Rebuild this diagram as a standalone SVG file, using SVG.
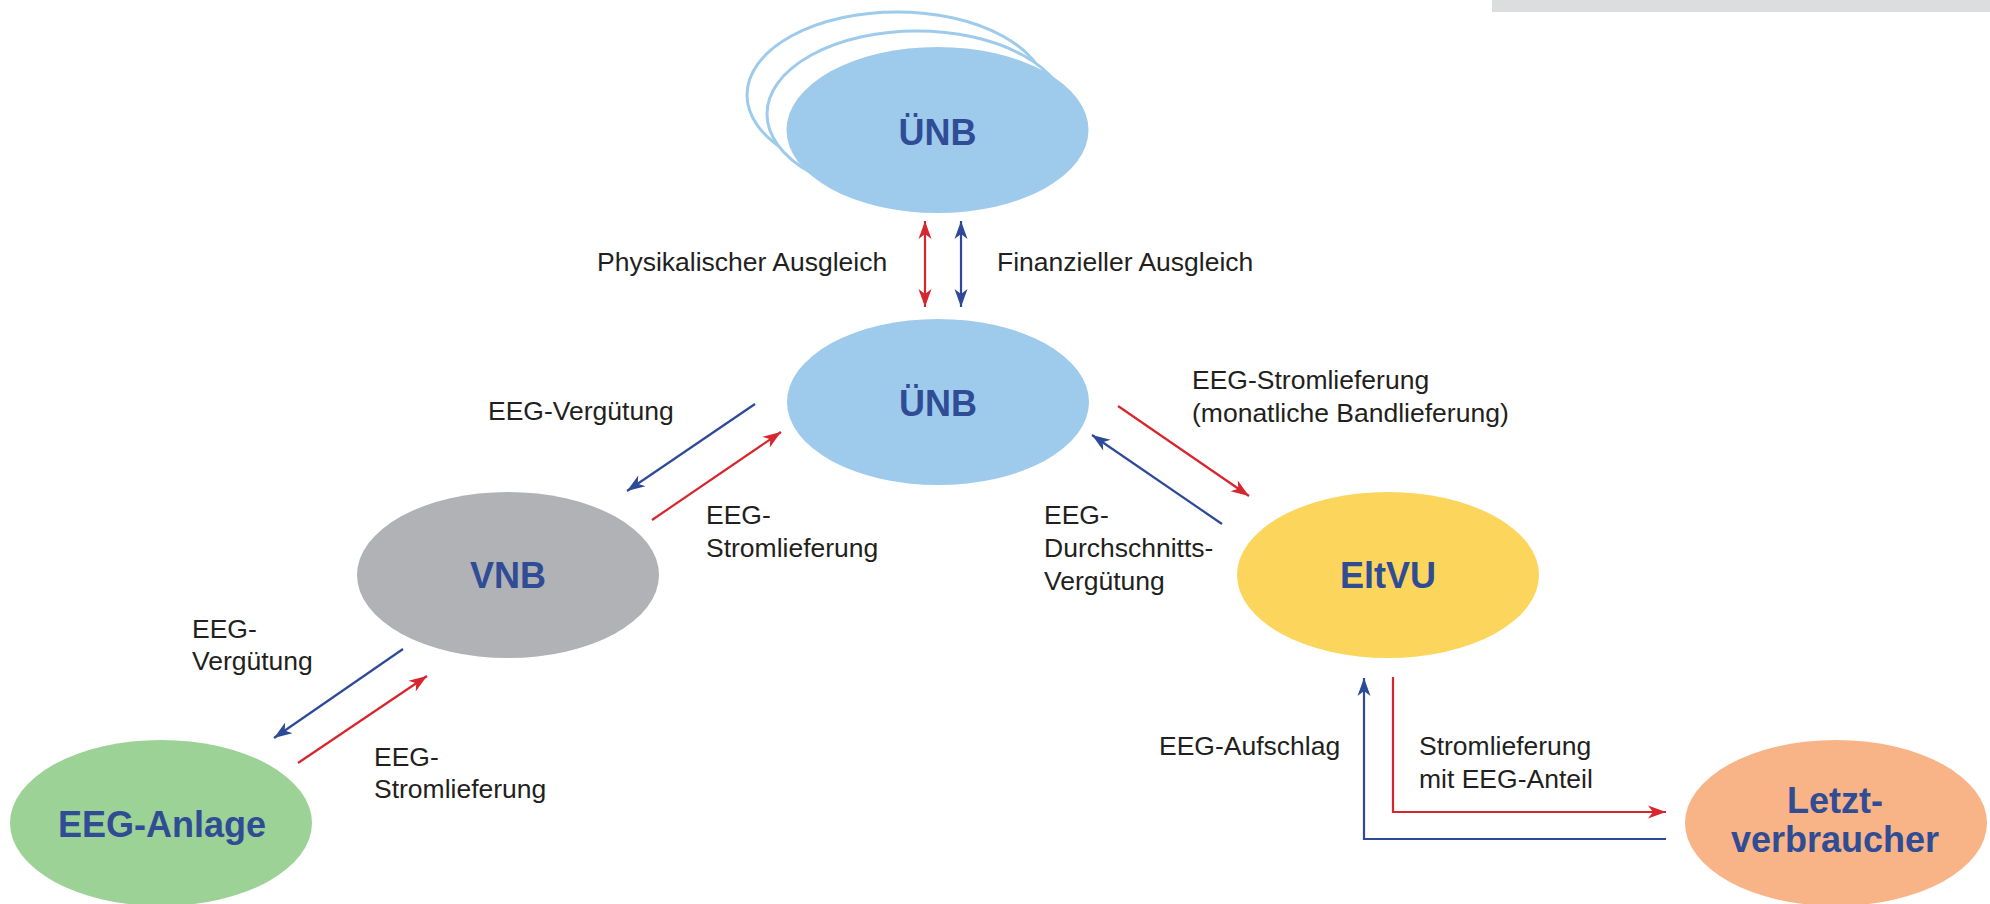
<svg xmlns="http://www.w3.org/2000/svg" width="1990" height="904" viewBox="0 0 1990 904">
  <style>
    .lbl { font-family: "Liberation Sans", Arial, sans-serif; font-size: 26.5px; fill: #231f20; }
    .node { font-family: "Liberation Sans", Arial, sans-serif; font-size: 36px; font-weight: bold; fill: #2f4c95; text-anchor: middle; }
    .red { stroke: #d7262e; stroke-width: 2.2; fill: none; }
    .blue { stroke: #2d4a98; stroke-width: 2.2; fill: none; }
  </style>
  <defs>
    <marker id="ar" markerUnits="userSpaceOnUse" markerWidth="24" markerHeight="20" viewBox="-20 -10 24 20" refX="0" refY="0" orient="auto-start-reverse">
      <path d="M0,0 L-18,-6.5 L-13,0 L-18,6.5 Z" fill="#d7262e"/>
    </marker>
    <marker id="ab" markerUnits="userSpaceOnUse" markerWidth="24" markerHeight="20" viewBox="-20 -10 24 20" refX="0" refY="0" orient="auto-start-reverse">
      <path d="M0,0 L-18,-6.5 L-13,0 L-18,6.5 Z" fill="#2d4a98"/>
    </marker>
  </defs>
  <rect x="1492" y="0" width="498" height="12" fill="#dcdddf"/>

  <g id="uenb-top">
    <ellipse cx="897" cy="95" rx="150" ry="83" fill="#ffffff" stroke="#9ecbec" stroke-width="3"/>
    <ellipse cx="917" cy="114" rx="150" ry="83" fill="#ffffff" stroke="#9ecbec" stroke-width="3"/>
    <ellipse cx="937.5" cy="130" rx="151" ry="83" fill="#9ecbec"/>
    <text class="node" x="937.5" y="145">ÜNB</text>
  </g>
  <g id="uenb">
    <ellipse cx="938" cy="402" rx="151" ry="83" fill="#9ecbec"/>
    <text class="node" x="938" y="416">ÜNB</text>
  </g>
  <g id="vnb">
    <ellipse cx="508" cy="575" rx="151" ry="83" fill="#b1b2b6"/>
    <text class="node" x="508" y="588">VNB</text>
  </g>
  <g id="eltvu">
    <ellipse cx="1388" cy="575" rx="151" ry="83" fill="#fcd55c"/>
    <text class="node" x="1388" y="588">EltVU</text>
  </g>
  <g id="eeg-anlage">
    <ellipse cx="161" cy="823" rx="151" ry="83" fill="#9cd295"/>
    <text class="node" x="162" y="837">EEG-Anlage</text>
  </g>
  <g id="letztverbraucher">
    <ellipse cx="1836" cy="823" rx="151" ry="83" fill="#f8b386"/>
    <text class="node" x="1835" y="813">Letzt-</text>
    <text class="node" x="1835" y="852">verbraucher</text>
  </g>

  <g id="connectors">
    <line class="red" x1="925" y1="221" x2="925" y2="307" marker-start="url(#ar)" marker-end="url(#ar)"/>
    <line class="blue" x1="961" y1="221" x2="961" y2="307" marker-start="url(#ab)" marker-end="url(#ab)"/>
    <line class="blue" x1="755" y1="404" x2="627" y2="491" marker-end="url(#ab)"/>
    <line class="red" x1="652" y1="520" x2="781" y2="432" marker-end="url(#ar)"/>
    <line class="red" x1="1118" y1="406" x2="1249" y2="496" marker-end="url(#ar)"/>
    <line class="blue" x1="1222" y1="524" x2="1092" y2="435" marker-end="url(#ab)"/>
    <line class="blue" x1="403" y1="649" x2="274" y2="738" marker-end="url(#ab)"/>
    <line class="red" x1="298" y1="763" x2="427" y2="676" marker-end="url(#ar)"/>
    <path class="blue" d="M1666,839 L1364,839 L1364,678" marker-end="url(#ab)"/>
    <path class="red" d="M1393,677 L1393,812 L1666,812" marker-end="url(#ar)"/>
  </g>

  <g id="labels">
    <text class="lbl" x="597" y="271">Physikalischer Ausgleich</text>
    <text class="lbl" x="997" y="271">Finanzieller Ausgleich</text>
    <text class="lbl" x="488" y="420">EEG-Vergütung</text>
    <text class="lbl" x="706" y="524">EEG-</text>
    <text class="lbl" x="706" y="557">Stromlieferung</text>
    <text class="lbl" x="1192" y="389">EEG-Stromlieferung</text>
    <text class="lbl" x="1192" y="422">(monatliche Bandlieferung)</text>
    <text class="lbl" x="1044" y="524">EEG-</text>
    <text class="lbl" x="1044" y="557">Durchschnitts-</text>
    <text class="lbl" x="1044" y="590">Vergütung</text>
    <text class="lbl" x="192" y="638">EEG-</text>
    <text class="lbl" x="192" y="670">Vergütung</text>
    <text class="lbl" x="374" y="766">EEG-</text>
    <text class="lbl" x="374" y="798">Stromlieferung</text>
    <text class="lbl" x="1159" y="755">EEG-Aufschlag</text>
    <text class="lbl" x="1419" y="755">Stromlieferung</text>
    <text class="lbl" x="1419" y="788">mit EEG-Anteil</text>
  </g>
</svg>
